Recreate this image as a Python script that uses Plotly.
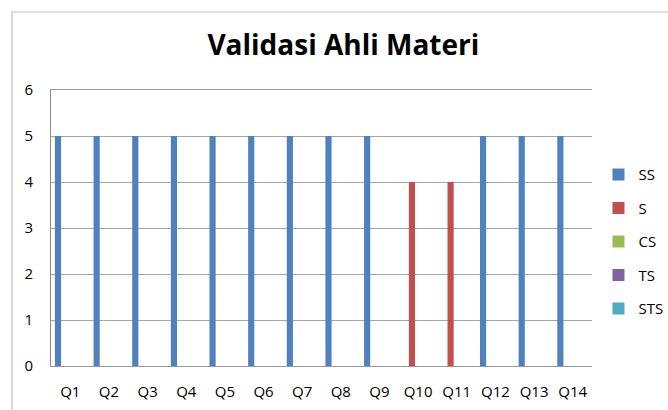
import plotly.graph_objects as go

categories = ["Q1", "Q2", "Q3", "Q4", "Q5", "Q6", "Q7", "Q8", "Q9", "Q10", "Q11", "Q12", "Q13", "Q14"]
ss = [5, 5, 5, 5, 5, 5, 5, 5, 5, 0, 0, 5, 5, 5]
s = [0, 0, 0, 0, 0, 0, 0, 0, 0, 4, 4, 0, 0, 0]
cs = [0] * 14
ts = [0] * 14
sts = [0] * 14

series_names = ["SS", "S", "CS", "TS", "STS"]
series_values = [ss, s, cs, ts, sts]
series_colors = ["#4F81BD", "#C0504D", "#9BBB59", "#8064A2", "#4BACC6"]
y_ticks = [0, 1, 2, 3, 4, 5, 6]

FONT = "Open Sans"

fig = go.Figure()
for name, vals, col in zip(series_names, series_values, series_colors):
    fig.add_trace(go.Bar(
        x=categories, y=vals, name=name, legendgroup=name,
        marker=dict(color=col, line=dict(width=0)),
    ))

fig.update_layout(
    width=668, height=410,
    margin=dict(l=51, r=76, t=90, b=44, autoexpand=False),
    paper_bgcolor="white", plot_bgcolor="white",
    barmode="group", bargap=0.203, bargroupgap=0,
    font=dict(family=FONT, size=15, color="#000000"),
    title=dict(text="<b>Validasi Ahli Materi</b>", font=dict(family=FONT, size=28, color="#000000"),
               x=0.514, xref="container", xanchor="center",
               y=1 - 45 / 410, yref="container", yanchor="middle"),
    legend=dict(x=1.012, xanchor="left", y=0.45, yanchor="middle",
                traceorder="grouped", tracegroupgap=11,
                font=dict(family=FONT, size=15, color="#000000"),
                bgcolor="rgba(0,0,0,0)"),
    showlegend=True,
    shapes=[dict(type="rect", xref="paper", yref="paper",
                 x0=(12 - 51) / 541, x1=1.3, y0=-0.3, y1=(366 - 12) / 276,
                 line=dict(color="#BFBFBF", width=1.2), fillcolor="rgba(0,0,0,0)", layer="below")],
)
fig.update_xaxes(
    type="category", showgrid=False, showline=True, mirror=True, linecolor="#9A9A9A", linewidth=1,
    ticks="", ticklabelstandoff=12, automargin=False,
    tickfont=dict(family=FONT, size=15, color="#000000"),
)
fig.update_yaxes(
    range=[0, 6], tickvals=y_ticks, showgrid=True, gridcolor="#A6A6A6", gridwidth=1,
    showline=True, linecolor="#8C8C8C", linewidth=1, zeroline=False,
    ticks="", ticklabelstandoff=14, automargin=False,
    tickfont=dict(family=FONT, size=15, color="#000000"),
)
fig.write_html("out.html", config={"displayModeBar": False},
               post_script="document.body.style.margin='0';")
